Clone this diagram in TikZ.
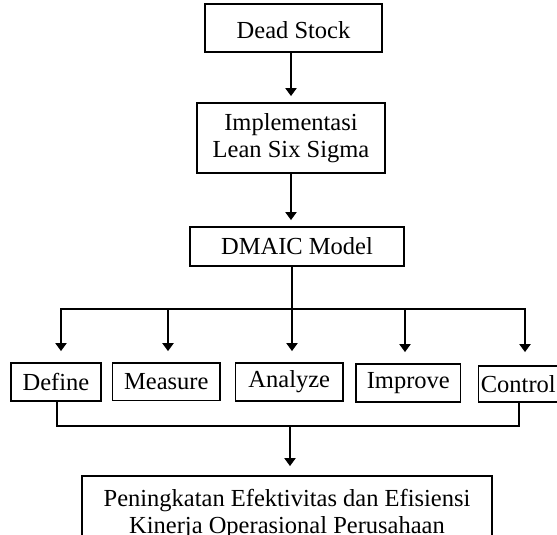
\documentclass[tikz,border=0pt]{standalone}
\usepackage{fontspec}
\setmainfont{Liberation Serif}
\usetikzlibrary{arrows.meta}
\begin{document}
\begin{tikzpicture}[x=1pt,y=-1pt,
  box/.style={draw, line width=1.8pt, inner sep=0pt, align=center,
              font=\fontsize{24.5}{27}\selectfont},
  conn/.style={line width=2.6pt, line cap=rect, line join=miter},
  arr/.style={line width=2.6pt, -{Triangle[length=8pt,width=11pt]}}]
\useasboundingbox (0,0) rectangle (557,535);
% boxes
\node[box, minimum width=177pt, minimum height=48pt, text height=22pt, text depth=0pt] (ds) at (293.5,28) {Dead Stock};
\node[box, minimum width=188pt, minimum height=70pt] (impl) at (291,138) {Implementasi\\Lean Six Sigma};
\node[box, minimum width=214pt, minimum height=39pt] (dmaic) at (297,246.5) {DMAIC Model};
\node[box, minimum width=90pt, minimum height=38pt] (define) at (56,382) {Define};
\node[box, minimum width=107.5pt, minimum height=37.5pt] (measure) at (166.3,381.8) {Measure};
\node[box, minimum width=107.5pt, minimum height=38pt] (analyze) at (289.3,382) {Analyze};
\node[box, minimum width=104.5pt, minimum height=38pt] (improve) at (408.3,383) {Improve};
\node[box, anchor=west, text width=85pt, align=left, inner xsep=2.5pt, minimum height=36pt] (control) at (477.5,384) {Control};
\node[box, minimum width=410pt, minimum height=75.6pt] (res) at (287,513.8) {Peningkatan Efektivitas dan Efisiensi\\Kinerja Operasional Perusahaan};
% top arrows
\draw[arr, shorten >=6pt] (impl.north |- ds.south) -- (impl.north);
\draw[arr, shorten >=6pt] (impl.south) -- (impl.south |- dmaic.north);
% distribution bar
\coordinate (a1) at (61,309);
\coordinate (a2) at (168,309);
\coordinate (a3) at (292,309);
\coordinate (a4) at (405,309);
\coordinate (a5) at (525,309);
\draw[conn] (a3 |- dmaic.south) -- (a3);
\draw[conn] (a1) -- (a5);
\draw[arr, shorten >=11pt] (a1) -- (a1 |- define.north);
\draw[arr, shorten >=11pt] (a2) -- (a2 |- measure.north);
\draw[arr, shorten >=11pt] (a3) -- (a3 |- analyze.north);
\draw[arr, shorten >=11pt] (a4) -- (a4 |- improve.north);
\draw[arr, shorten >=13pt] (a5) -- (a5 |- control.north);
% collecting bracket
\coordinate (ll) at (57,426);
\coordinate (lr) at (519,426);
\coordinate (lm) at (290,426);
\draw[conn] (ll |- define.south) -- (ll) -- (lr) -- (lr |- control.south);
\draw[arr, shorten >=9pt] (lm) -- (lm |- res.north);
\end{tikzpicture}
\end{document}
